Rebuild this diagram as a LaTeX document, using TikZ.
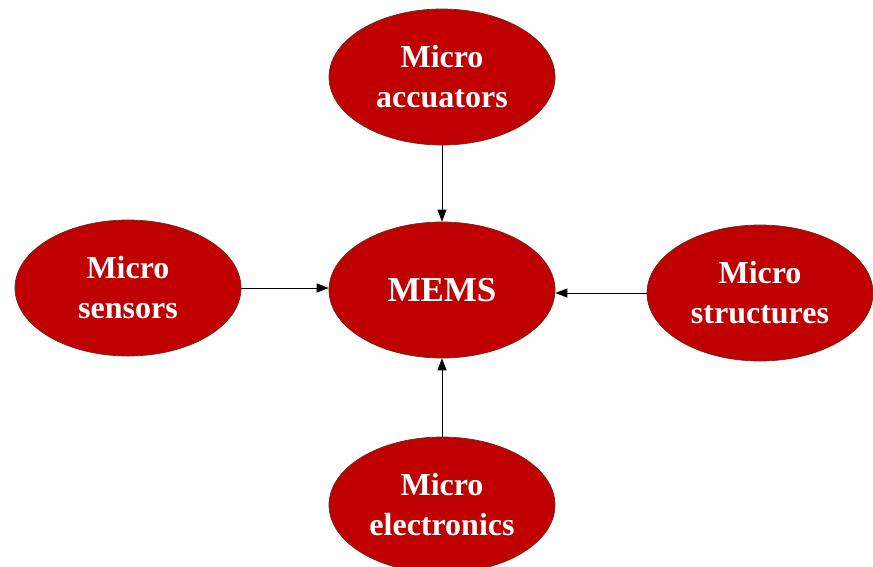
\documentclass[tikz,border=0pt]{standalone}
\usepackage{fontspec}
\setmainfont{Liberation Serif}
\usetikzlibrary{arrows.meta,shapes.geometric}
\definecolor{memsred}{HTML}{C00000}
\definecolor{memsedge}{HTML}{6B2A1E}
\tikzset{
  blob/.style={ellipse, draw=memsedge, line width=0.7pt, fill=memsred,
    minimum width=226pt, minimum height=136pt, inner sep=0pt,
    text=white, align=center, font=\bfseries\fontsize{32}{40}\selectfont},
  feed/.style={-{Triangle[length=12pt,width=9pt]}, line width=0.8pt, black}
}
\begin{document}
\begin{tikzpicture}[x=1pt,y=-1pt]
  \useasboundingbox (0,0) rectangle (873,566);
  \clip (0,0) rectangle (873,566);
  \fill[white] (0,0) rectangle (873,566);
  \node[blob] (mems) at (442,290) {\fontsize{35}{40}\selectfont MEMS};
  \node[blob] (act) at (442,77) {Micro\\accuators};
  \node[blob] (sens) at (128,288) {Micro\\sensors};
  \node[blob] (struct) at (760,293) {Micro\\structures};
  \node[blob] (elec) at (442,505) {Micro\\electronics};
  \draw[feed] (act.south) -- (mems.north);
  \draw[feed] (sens.east) -- (mems.west |- sens.east);
  \draw[feed] (struct.west) -- (mems.east |- struct.west);
  \draw[feed] (elec.north) -- (mems.south);
\end{tikzpicture}
\end{document}
